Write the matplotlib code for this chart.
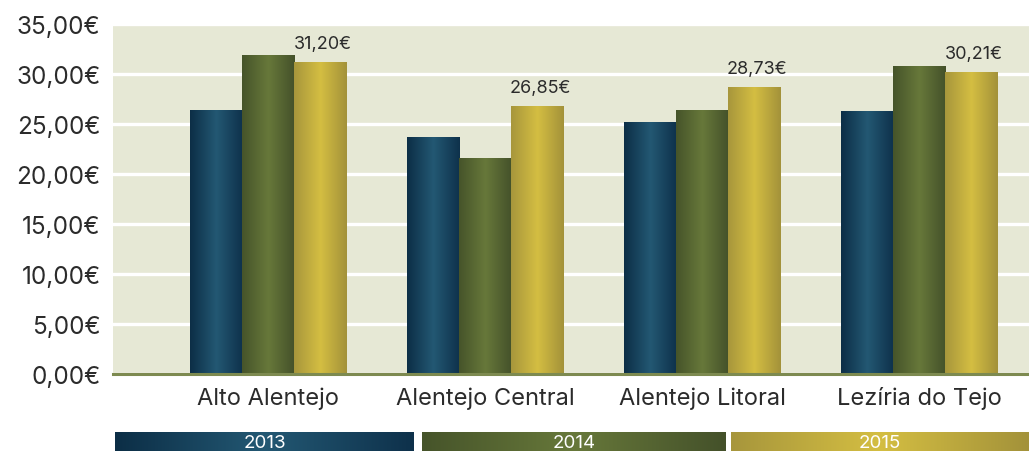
import numpy as np
import matplotlib.pyplot as plt
from matplotlib.colors import LinearSegmentedColormap

plt.rcParams['font.family'] = ['Inter', 'DejaVu Sans']

regioes = ['Alto Alentejo', 'Alentejo Central', 'Alentejo Litoral', 'Lezíria do Tejo']
anos = ['2013', '2014', '2015']
v2013 = [26.40, 23.70, 25.20, 26.30]
v2014 = [31.90, 21.60, 26.40, 30.80]
v2015 = [31.20, 26.85, 28.73, 30.21]
rotulos_2015 = ['31,20€', '26,85€', '28,73€', '30,21€']
yticks = np.arange(0, 36, 5)

# gradients: dark edges, light middle
grad_cores = [
    ['#0c2e46', '#235873', '#0e314b'],
    ['#46542a', '#67783a', '#44512a'],
    ['#a7963c', '#d4be42', '#a3923a'],
]
cmaps = [LinearSegmentedColormap.from_list('g%d' % i, c) for i, c in enumerate(grad_cores)]
grad = np.linspace(0, 1, 256).reshape(1, -1)


def fmt_euro(v):
    return ('%.2f€' % v).replace('.', ',')


fig = plt.figure(figsize=(10.29, 4.52), dpi=100)
ax = fig.add_axes([113 / 1029, 77 / 452, 916 / 1029, 350 / 452])
ax.set_facecolor('#e6e8d5')

x = np.arange(len(regioes))
w = 0.24
series = [v2013, v2014, v2015]
for i, vals in enumerate(series):
    bars = ax.bar(x + (i - 1) * w, vals, w, color='none', zorder=3)
    for b in bars:
        x0, y0 = b.get_x(), b.get_y()
        im = ax.imshow(grad, cmap=cmaps[i], aspect='auto', zorder=3,
                       extent=(x0, x0 + b.get_width(), y0, y0 + b.get_height()))
        im.set_clip_path(b)

for xi, v, t in zip(x, v2015, rotulos_2015):
    ax.text(xi + w + 0.015, v + 1.0, t, ha='center', va='bottom',
            fontsize=13, color='#2b2b2b', zorder=4)

ax.set_xlim(-0.714, 3.507)
ax.set_ylim(0, 35)
ax.set_yticks(yticks)
ax.set_yticklabels([fmt_euro(v) for v in yticks], fontsize=17.5, color='#2b2b2b')
ax.set_xticks(x)
ax.set_xticklabels(regioes, fontsize=17, color='#2b2b2b')
ax.tick_params(length=0)
ax.tick_params(axis='y', pad=9)
ax.tick_params(axis='x', pad=9)
ax.yaxis.grid(True, color='white', linewidth=2.4, zorder=1)
ax.set_axisbelow(True)
for s in ax.spines.values():
    s.set_visible(False)
ax.axhline(0, color='#7d8a50', linewidth=2.2, zorder=5, clip_on=False)

# legend strips along the bottom
faixas = [(115, 414), (422, 726), (731, 1029)]
for (xa, xb), ano, cm in zip(faixas, anos, cmaps):
    lax = fig.add_axes([xa / 1029, -8 / 452, (xb - xa) / 1029, 27 / 452])
    lax.imshow(grad, cmap=cm, aspect='auto', extent=(0, 1, 0, 1))
    lax.set_xlim(0, 1)
    lax.set_ylim(0, 1)
    lax.axis('off')
    lax.text(0.5, 0.31, ano, ha='center', va='bottom', color='white', fontsize=13.5)

fig.savefig('out.png', dpi=100)
